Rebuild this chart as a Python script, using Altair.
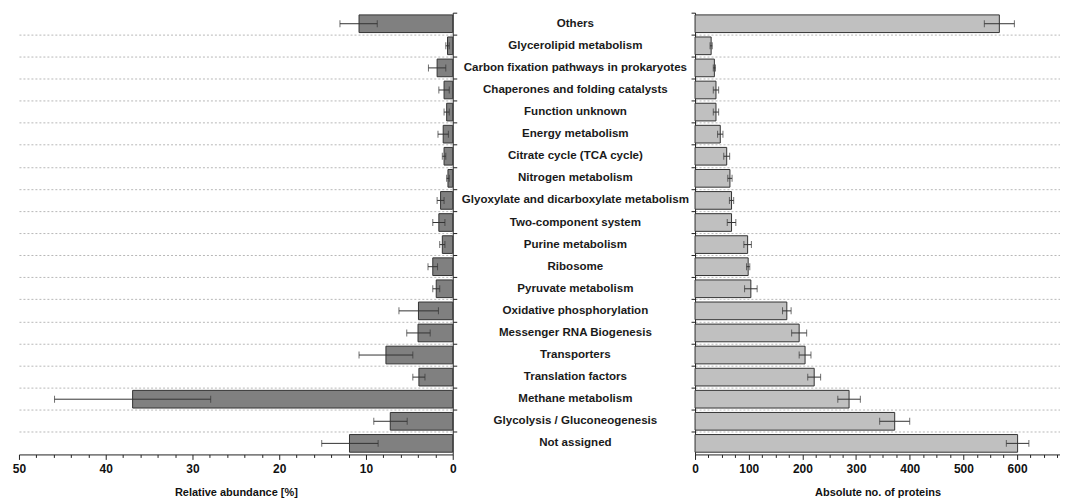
import altair as alt
import pandas as pd

categories = [
    "Others", "Glycerolipid metabolism", "Carbon fixation pathways in prokaryotes",
    "Chaperones and folding catalysts", "Function unknown", "Energy metabolism",
    "Citrate cycle (TCA cycle)", "Nitrogen metabolism",
    "Glyoxylate and dicarboxylate metabolism", "Two-component system",
    "Purine metabolism", "Ribosome", "Pyruvate metabolism",
    "Oxidative phosphorylation", "Messenger RNA Biogenesis", "Transporters",
    "Translation factors", "Methane metabolism", "Glycolysis / Gluconeogenesis",
    "Not assigned",
]

rel_abundance = [10.8, 0.6, 1.8, 1.0, 0.7, 1.1, 1.0, 0.55, 1.4, 1.6,
                 1.2, 2.3, 1.9, 3.95, 4.0, 7.7, 3.9, 36.9, 7.2, 11.9]
rel_low = [8.7, 0.4, 0.8, 0.4, 0.4, 0.5, 0.8, 0.4, 1.0, 0.9,
           0.9, 1.75, 1.5, 1.65, 2.6, 4.6, 3.2, 27.9, 5.25, 8.6]
rel_high = [13.0, 0.8, 2.8, 1.6, 1.0, 1.7, 1.2, 0.7, 1.8, 2.3,
            1.5, 2.85, 2.3, 6.2, 5.3, 10.8, 4.6, 45.9, 9.1, 15.1]

abs_proteins = [567, 30, 36, 39, 39, 47, 59, 65, 68, 68,
                98, 99, 104, 171, 194, 205, 222, 287, 372, 601]
abs_err = [28, 2, 2, 5, 5, 5, 5.5, 4, 4, 8,
           7, 3, 11.7, 8, 14, 11, 12, 21, 28, 21]

left_ticks = list(range(0, 51, 2))
right_ticks = list(range(0, 676, 25))

df = pd.DataFrame({
    "cat": categories,
    "rel": rel_abundance,
    "rel_lo": rel_low,
    "rel_hi": rel_high,
    "abs": abs_proteins,
    "abs_lo": [a - e for a, e in zip(abs_proteins, abs_err)],
    "abs_hi": [a + e for a, e in zip(abs_proteins, abs_err)],
})

FONT = "Liberation Sans"
H = 443
ybase = dict(sort=categories, scale=alt.Scale(paddingInner=0, paddingOuter=0))

grid_op = {"condition": {"test": "datum.value == 'Others'", "value": 0}, "value": 1}


def yaxis(orient):
    return alt.Axis(orient=orient, labels=False, title=None, bandPosition=0,
                    ticks=True, tickSize=4, tickColor="#222", domainColor="#222",
                    grid=True, gridColor="#b8b8b8", gridDash=[2, 2], gridWidth=1,
                    gridOpacity=grid_op)


def xaxis(title, values, major):
    return alt.Axis(title=title, values=values,
                    labelExpr=f"datum.value % {major} == 0 ? datum.label : ''",
                    labelOverlap=False, labelFlush=False, grid=False,
                    tickSize={"condition": {"test": f"datum.value % {major} == 0", "value": 5}, "value": 3},
                    tickColor="#222", domainColor="#222",
                    labelFont=FONT, labelFontWeight="bold", labelFontSize=12, labelColor="#111",
                    titleFont=FONT, titleFontWeight="bold", titleFontSize=11, titleColor="#111",
                    titlePadding=12, labelPadding=4)


def panel(val, lo, hi, scale, axis, orient, fill, width):
    base = alt.Chart(df)
    y = alt.Y("cat:N", axis=yaxis(orient), **ybase)
    bars = base.mark_bar(height={"band": 0.8}, color=fill, stroke="#333", strokeWidth=1).encode(
        x=alt.X(f"{val}:Q", scale=scale, axis=axis), y=y)
    rule = base.mark_rule(color="#333", strokeWidth=1).encode(
        x=alt.X(f"{lo}:Q", scale=scale, axis=axis), x2=f"{hi}:Q", y=y)
    t1 = base.mark_tick(color="#333", thickness=1, size=7).encode(
        x=alt.X(f"{lo}:Q", scale=scale, axis=axis), y=y)
    t2 = base.mark_tick(color="#333", thickness=1, size=7).encode(
        x=alt.X(f"{hi}:Q", scale=scale, axis=axis), y=y)
    return alt.layer(bars, rule, t1, t2).properties(width=width, height=H)


left = panel("rel", "rel_lo", "rel_hi",
             alt.Scale(domain=[0, 50], reverse=True, nice=False),
             xaxis("Relative abundance [%]", left_ticks, 10), "right", "#808080", 435)

mid = alt.Chart(df).mark_text(font=FONT, fontWeight="bold", fontSize=11.6, color="#1a1a1a").encode(
    y=alt.Y("cat:N", axis=None, **ybase),
    x=alt.value(118),
    text="cat:N",
).properties(width=233, height=H)

right = panel("abs", "abs_lo", "abs_hi",
              alt.Scale(domain=[0, 680], nice=False),
              xaxis("Absolute no. of proteins", right_ticks, 100), "left", "#c0c0c0", 366)

chart = alt.hconcat(left, mid, right, spacing=0).properties(
    padding={"left": 4, "top": 3, "right": 0, "bottom": 0}
).configure(background="white").configure_view(stroke="transparent", strokeWidth=0)

chart.save("out.html", embed_options={"renderer": "svg", "actions": False})
